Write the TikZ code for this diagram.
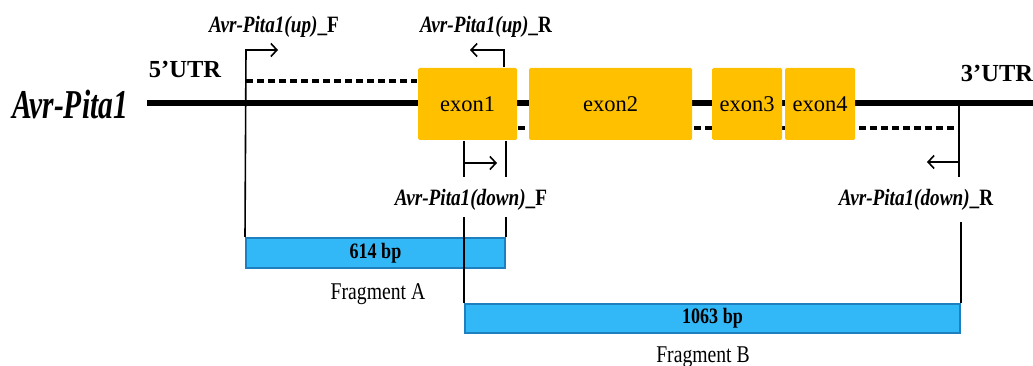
\documentclass[tikz,border=0pt]{standalone}
\usepackage{fontspec}
\setmainfont{Liberation Serif}
\newfontfamily\narrowfont{Liberation Serif}[FakeStretch=0.82]
\newfontfamily\genefont{Liberation Serif}[FakeStretch=0.72]
\usepackage{tikz}
\usetikzlibrary{arrows.meta,positioning,backgrounds,calc}
\definecolor{exoncol}{RGB}{255,192,0}
\definecolor{fragfill}{RGB}{51,184,247}
\definecolor{fragdraw}{RGB}{30,128,190}

\begin{document}
\begin{tikzpicture}[x=1pt, y=-1pt, >={Straight Barb[length=6pt,width=13pt]},
	   line width=1.6pt,
	   exon/.style={fill=exoncol, rounded corners=1.5pt, minimum height=72pt, inner sep=0pt, font=\fontsize{22.5}{26}\selectfont},
	   frag/.style={draw=fragdraw, line width=2pt, fill=fragfill, inner sep=0pt, font=\narrowfont\fontsize{22}{24}\selectfont\bfseries},
	   prm/.style={anchor=base, inner sep=1pt, font=\narrowfont\fontsize{23.4}{26}\selectfont\bfseries},
	   utr/.style={font=\fontsize{24.5}{27}\selectfont\bfseries},
	   fragcap/.style={anchor=base, font=\narrowfont\fontsize{24}{26}\selectfont},
	   dsh/.style={line width=4.5pt, dash pattern=on 7pt off 4pt}]
	  \useasboundingbox (0,0) rectangle (1033,366);
	  % gene and exons
	  \node[font=\genefont\fontsize{41}{44}\selectfont\bfseries\itshape] (gene) at (70,104) {Avr-Pita1};
	  \node[exon, minimum width=99pt] (e1) at (467.5,104) {exon1};
	  \node[exon, minimum width=163pt] (e2) at (610.5,104) {exon2};
	  \node[exon, minimum width=70pt] (e3) at (747,104) {exon3};
	  \node[exon, minimum width=70pt] (e4) at (820,104) {exon4};
	  \node[utr] (u5) at (185,69) {5'UTR};
	  \node[utr] (u3) at (997,73) {3'UTR};
	  \coordinate (g0) at (147,103);
	  \coordinate (g1) at (1033,103);
	  \coordinate (d1) at (246,81);
	  \coordinate (d2) at (959,128);
	  \begin{scope}[on background layer]
	    \draw[line width=6pt] (g0) -- (g1);
	    \draw[dsh] (e1.east |- d2) -- (d2);
	  \end{scope}
	  \draw[dsh] (d1) -- (e1.west |- d1);
	  % fragments
	  \node[frag, minimum width=259pt, minimum height=30pt] (fa) at (375.5,253) {614 bp};
	  \node[frag, minimum width=495pt, minimum height=29pt] (fb) at (712.5,318) {1063 bp};
	  \node[fragcap] (ca) at (378,299) {Fragment A};
	  \node[fragcap] (cb) at (703,362) {Fragment B};
	  % primers
	  \node[prm] (uF) at (274,33) {\textit{Avr-Pita1(up)}\_F};
	  \node[prm] (uR) at (486,33) {\textit{Avr-Pita1(up)}\_R};
	  \node[prm] (dF) at (471,205) {\textit{Avr-Pita1(down)}\_F};
	  \node[prm] (dR) at (916,206) {\textit{Avr-Pita1(down)}\_R};
	  \coordinate (pF) at (246,50);
	  \coordinate (pR) at (504,50);
	  \coordinate (qF) at (465,163);
	  \coordinate (qR) at (959,162);
	  \draw[->] (fa.north west) -- (pF) -- ++(32,0);
	  \draw[->] (pR |- e1.north) -- (pR) -- ++(-34,0);
	  \draw (fb.north west |- e1.south) -- (fb.north west |- 0,177);
	  \draw (fa.north east |- e1.south) -- (fa.north east |- 0,177);
	  \draw[->] (qF) -- ++(32,0);
	  \draw (fb.north west) -- (fb.north west |- 0,217);
	  \draw (fa.north east) -- (fa.north east |- 0,217);
	  \draw (qR |- g0) -- (qR |- 0,177);
	  \draw[->] (qR) -- ++(-32,0);
	  \draw (fb.north east) -- (fb.north east |- 0,222);
	\end{tikzpicture}
\end{document}
